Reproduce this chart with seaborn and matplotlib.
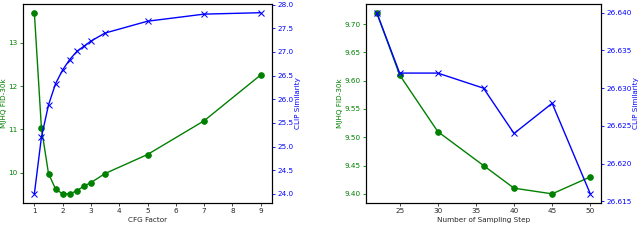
import numpy as np
import pandas as pd
import matplotlib
matplotlib.use("Agg")
import matplotlib.pyplot as plt
import seaborn as sns

# CFG sweep
cfg_factor = [1, 1.25, 1.5, 1.75, 2, 2.25, 2.5, 2.75, 3, 3.5, 5, 7, 9]
cfg_fid = [13.70, 11.03, 9.98, 9.62, 9.51, 9.51, 9.58, 9.69, 9.77, 9.98, 10.42, 11.20, 12.26]
cfg_clip = [24.00, 25.20, 25.88, 26.33, 26.62, 26.84, 27.01, 27.12, 27.23, 27.40, 27.65, 27.80, 27.83]

# sampling steps sweep
steps = [22, 25, 30, 36, 40, 45, 50]
step_fid = [9.72, 9.61, 9.51, 9.45, 9.41, 9.40, 9.43]
step_clip = [26.640, 26.632, 26.632, 26.630, 26.624, 26.628, 26.616]

sns.set_style("ticks")
plt.rcParams["font.family"] = ["DejaVu Sans"]
fs = 5.2

fig = plt.figure(figsize=(6.4, 2.43), dpi=100)
ax1 = fig.add_axes([0.036, 0.165, 0.389, 0.82])
ax2 = fig.add_axes([0.572, 0.165, 0.367, 0.82])


def panel(ax, x, fid, clip, xlabel):
    df = pd.DataFrame({"x": x, "fid": fid, "clip": clip})
    sns.lineplot(data=df, x="x", y="fid", ax=ax, color="green", marker="o",
                 markersize=4, markeredgecolor="green", linewidth=1)
    axr = ax.twinx()
    sns.lineplot(data=df, x="x", y="clip", ax=axr, color="blue", marker="x",
                 markersize=4, markeredgecolor="blue", linewidth=1)
    ax.set_xlabel(xlabel, fontsize=fs, labelpad=1.5)
    ax.set_ylabel("MJHQ FID-30k", color="green", fontsize=fs, labelpad=1)
    axr.set_ylabel("CLIP Similarity", color="blue", fontsize=fs, labelpad=1)
    ax.tick_params(axis="y", colors="green", labelsize=fs, length=2.5, width=0.6, pad=1.5)
    ax.tick_params(axis="x", labelsize=fs, length=2.5, width=0.6, pad=1.5)
    axr.tick_params(axis="y", colors="blue", labelsize=fs, length=2.5, width=0.6, pad=1.5)
    for a in (ax, axr):
        for s in a.spines.values():
            s.set_linewidth(0.8)
            s.set_color("black")
    return axr


r1 = panel(ax1, cfg_factor, cfg_fid, cfg_clip, "CFG Factor")
ax1.set_xticks([1, 2, 3, 4, 5, 6, 7, 8, 9])
ax1.set_yticks([10, 11, 12, 13])
r1.set_yticks(np.arange(24.0, 28.01, 0.5))
r1.set_yticklabels([f"{v:.1f}" for v in np.arange(24.0, 28.01, 0.5)])

r2 = panel(ax2, steps, step_fid, step_clip, "Number of Sampling Step")
ax2.set_xticks([25, 30, 35, 40, 45, 50])
ax2.set_yticks(np.arange(9.40, 9.701, 0.05))
ax2.set_yticklabels([f"{v:.2f}" for v in np.arange(9.40, 9.701, 0.05)])
r2.set_yticks(np.arange(26.615, 26.6401, 0.005))
r2.set_yticklabels([f"{v:.3f}" for v in np.arange(26.615, 26.6401, 0.005)])

fig.savefig("out.png", dpi=100)
